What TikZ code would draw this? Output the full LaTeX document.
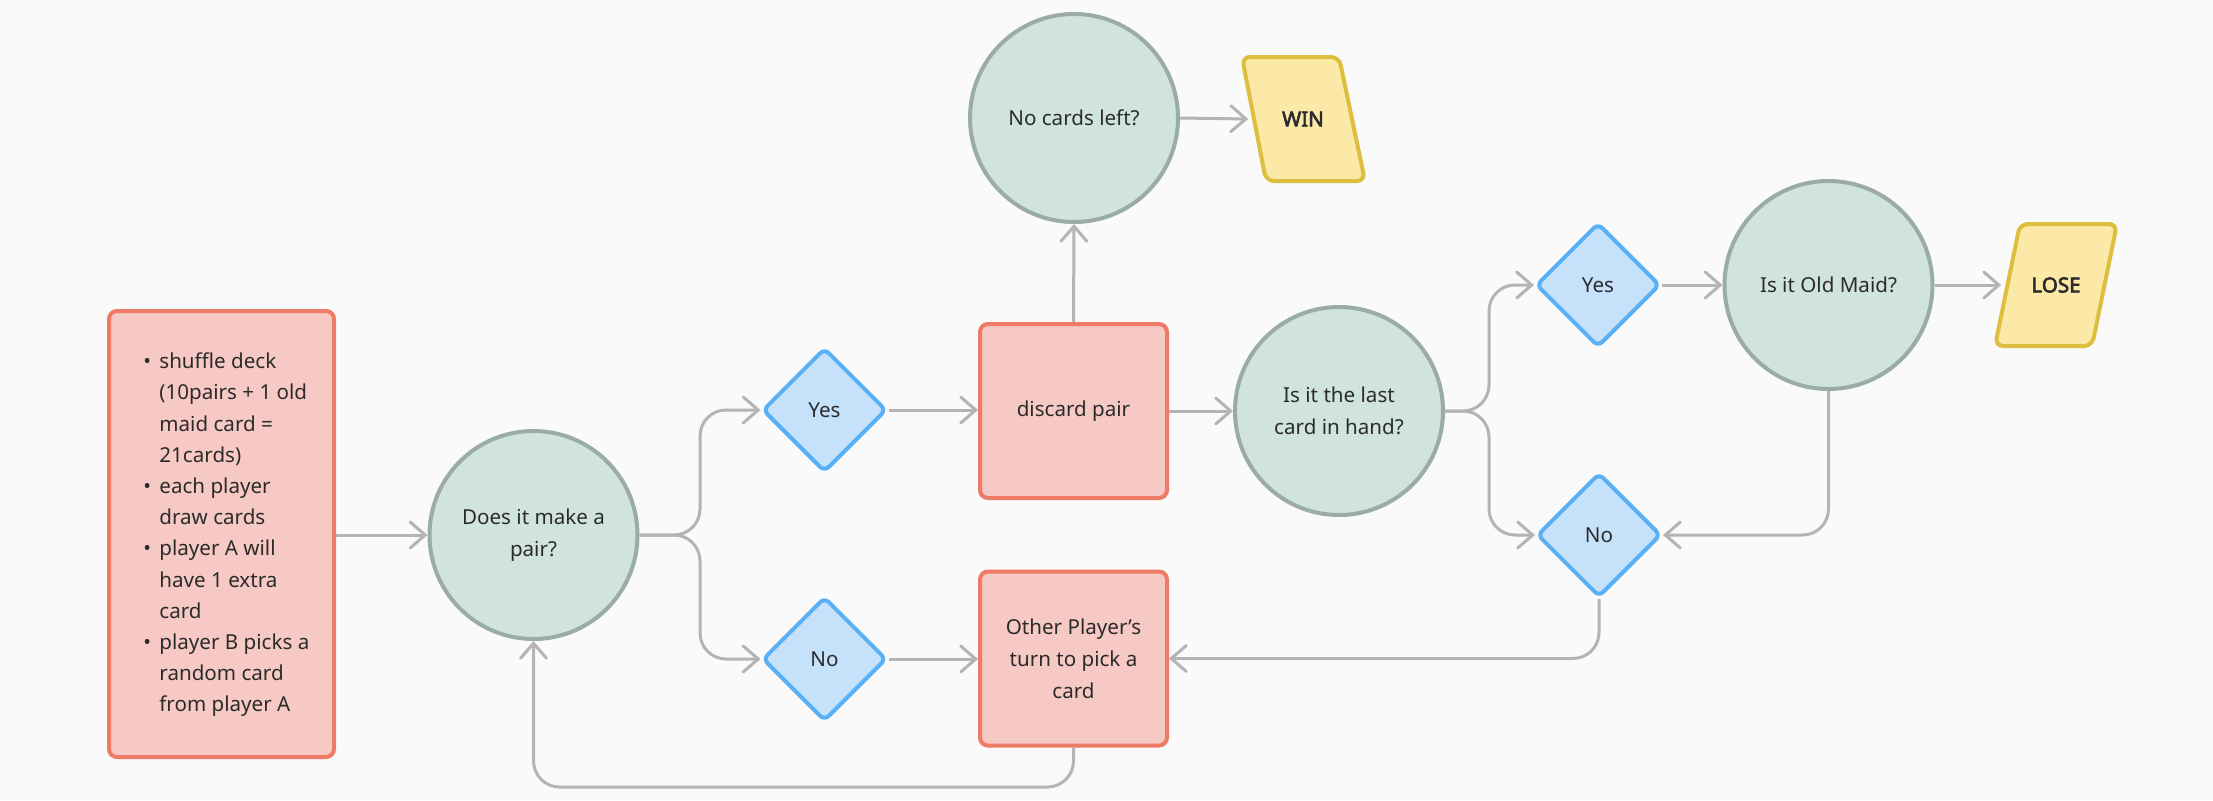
\documentclass[tikz,border=0pt]{standalone}
\usepackage{fontspec}
\setmainfont{Noto Sans}[AutoFakeBold=3]
\usetikzlibrary{arrows.meta,shapes.geometric}
\definecolor{bg}{HTML}{FAFAFA}
\definecolor{pinkfill}{HTML}{F6C9C4}
\definecolor{pinkline}{HTML}{EE7B66}
\definecolor{greenfill}{HTML}{D1E4DC}
\definecolor{greenline}{HTML}{9AADA4}
\definecolor{bluefill}{HTML}{C5E2FA}
\definecolor{blueline}{HTML}{5AB0F5}
\definecolor{yellowfill}{HTML}{FCE9A8}
\definecolor{yellowline}{HTML}{DDBE3E}
\definecolor{conn}{HTML}{B4B4B4}
\definecolor{txt}{HTML}{2B2B2B}
\tikzset{
  every node/.style={text=txt, font=\fontsize{10.3pt}{16pt}\selectfont},
  procbox/.style={rectangle, rounded corners=4pt, draw=pinkline, fill=pinkfill, line width=2pt,
    minimum width=93.5pt, minimum height=87pt, align=center, inner sep=0pt},
  decircle/.style={circle, draw=greenline, fill=greenfill, line width=2pt,
    minimum size=104pt, align=center, inner sep=0pt},
  choice/.style={diamond, draw=blueline, fill=bluefill, line width=2pt, rounded corners=3pt,
    minimum width=62pt, minimum height=62pt, inner sep=0pt},
  termshape/.style={draw=yellowline, fill=yellowfill, line width=2pt, rounded corners=4pt},
  termtext/.style={rectangle, minimum width=63.5pt, minimum height=64pt, inner sep=0pt,
    font=\fontsize{10.3pt}{16pt}\selectfont\bfseries},
  link/.style={draw=conn, line width=1.5pt, rounded corners=13pt,
    -{Straight Barb[length=7.5pt,width=13pt,line cap=round]}},
}
\begin{document}
\begin{tikzpicture}[x=0.5pt,y=-0.5pt]
\fill[bg] (0,0) rectangle (2213,800);
\useasboundingbox (0,0) rectangle (2213,800);

\node[procbox, minimum width=112.5pt, minimum height=223pt] (start) at (221.5,534) {};
\node[anchor=west, inner sep=0pt, align=left] (starttext) at (143,534) {%
\fontsize{10.3pt}{15.6pt}\selectfont
\begin{tabular}{@{}p{8pt}@{}l@{}}
\textbullet & shuffle deck\\
 & (10pairs + 1 old\\
 & maid card =\\
 & 21cards)\\
\textbullet & each player\\
 & draw cards\\
\textbullet & player A will\\
 & have 1 extra\\
 & card\\
\textbullet & player B picks a\\
 & random card\\
 & from player A
\end{tabular}};

\node[decircle] (c1) at (533.5,535) {Does it make a\\pair?};
\node[choice] (yes1) at (824.5,410) {Yes};
\node[choice] (no1) at (824.5,659) {No};
\node[procbox] (discard) at (1073.5,411) {discard pair};
\node[procbox] (other) at (1073.5,658.5) {Other Player’s\\turn to pick a\\card};
\node[decircle] (nocards) at (1074,118) {No cards left?};
\path[termshape] (1242,57) -- (1339,57) -- (1365,181) -- (1266,181) -- cycle;
\node[termtext] (win) at (1303,119) {WIN};
\node[decircle] (last) at (1339,411) {Is it the last\\card in hand?};
\node[choice] (yes2) at (1598,285) {Yes};
\node[choice] (no2) at (1599,535) {No};
\node[decircle] (oldmaid) at (1828.5,285) {Is it Old Maid?};
\path[termshape] (2020,224) -- (2117,224) -- (2092,346) -- (1995,346) -- cycle;
\node[termtext] (lose) at (2056,285) {LOSE};

\coordinate (loop) at (533.5,787);

\draw[link] (start.east |- c1.west) -- (c1.west);
\draw[link] (c1.east) -- (700,535) |- (yes1.west);
\draw[link] (c1.east) -- (700,535) |- (no1.west);
\draw[link] (yes1.east) -- (discard.west |- yes1.east);
\draw[link] (no1.east) -- (other.west |- no1.east);
\draw[link] (discard.north) -- (nocards.south);
\draw[link] (nocards.east) -- ([xshift=4.5pt]win.west);
\draw[link] (discard.east) -- (last.west);
\draw[link] (last.east) -- (1489,411) |- (yes2.west);
\draw[link] (last.east) -- (1489,411) |- (no2.west);
\draw[link] (yes2.east) -- (oldmaid.west);
\draw[link] (oldmaid.east) -- ([xshift=4.5pt]lose.west);
\draw[link] (oldmaid.south) |- (no2.east);
\draw[link] (no2.south) |- (other.east);
\draw[link] (other.south) |- (loop) -- (c1.south);
\end{tikzpicture}
\end{document}
